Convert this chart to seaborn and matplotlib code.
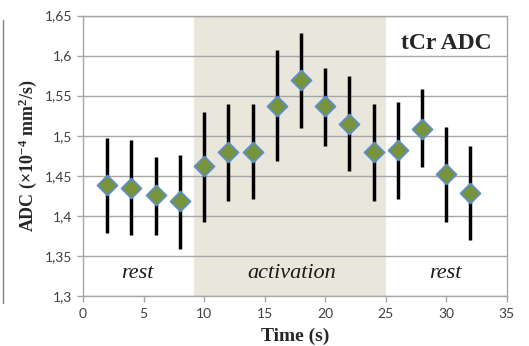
import matplotlib
matplotlib.use("Agg")
import matplotlib.pyplot as plt
from matplotlib.lines import Line2D
import seaborn as sns
import pandas as pd

# ---------------------------------------------------------------------------
# data
# ---------------------------------------------------------------------------
time_s = [2, 4, 6, 8, 10, 12, 14, 16, 18, 20, 22, 24, 26, 28, 30, 32]
adc_mean = [1.438, 1.435, 1.426, 1.418, 1.462, 1.480, 1.480, 1.537,
            1.569, 1.537, 1.515, 1.479, 1.482, 1.508, 1.452, 1.429]
adc_low = [1.379, 1.376, 1.376, 1.358, 1.392, 1.419, 1.421, 1.468,
           1.510, 1.487, 1.456, 1.419, 1.421, 1.461, 1.392, 1.370]
adc_high = [1.497, 1.494, 1.474, 1.476, 1.530, 1.540, 1.540, 1.607,
            1.628, 1.585, 1.575, 1.539, 1.542, 1.558, 1.511, 1.487]

activation_span = (9.2, 25.0)
phase_labels = ["rest", "activation", "rest"]
phase_x = [4.5, 17.2, 29.9]

x_ticks = [0, 5, 10, 15, 20, 25, 30, 35]
y_ticks = [1.3, 1.35, 1.4, 1.45, 1.5, 1.55, 1.6, 1.65]
y_tick_labels = ["1,3", "1,35", "1,4", "1,45", "1,5", "1,55", "1,6", "1,65"]

df = pd.DataFrame({"time": time_s, "adc": adc_mean, "lo": adc_low, "hi": adc_high})

sns.set_theme(style="white")
plt.rcParams["font.family"] = ["Lato", "DejaVu Sans"]
plt.rcParams["mathtext.fontset"] = "custom"
plt.rcParams["mathtext.rm"] = "Liberation Serif:bold"
plt.rcParams["mathtext.bf"] = "Liberation Serif:bold"
plt.rcParams["mathtext.default"] = "rm"

fig = plt.figure(figsize=(5.29, 3.46), dpi=100)
ax = fig.add_axes([0.157, 0.145, 0.801, 0.810])

grey = "#a6a6a6"
ax.set_axisbelow(True)
ax.axvspan(*activation_span, color="#e9e6dc", zorder=0, lw=0)
ax.yaxis.grid(True, color=grey, lw=1.0)
ax.xaxis.grid(False)

ax.vlines(df["time"], df["lo"], df["hi"], color="black", lw=2.5, zorder=2)
sns.scatterplot(data=df, x="time", y="adc", marker="D", s=105,
                color="#77933c", edgecolor="#5b8fd0", linewidth=1.2,
                zorder=3, ax=ax, legend=False)

ax.set_xlim(0, 35)
ax.set_ylim(1.3, 1.65)
ax.set_xticks(x_ticks)
ax.set_yticks(y_ticks)
ax.set_yticklabels(y_tick_labels)
ax.tick_params(axis="both", labelsize=10, colors=grey,
               direction="out", length=4, width=1)
ax.tick_params(axis="both", labelcolor="#404040")
ax.tick_params(axis="x", bottom=True, pad=5)
ax.tick_params(axis="y", left=True, pad=4)

for side in ["left", "bottom", "top", "right"]:
    ax.spines[side].set_visible(True)
    ax.spines[side].set_color(grey)
    ax.spines[side].set_linewidth(1.0)

serif = ["Liberation Serif", "DejaVu Serif"]
ax.set_xlabel("Time (s)", fontsize=14, fontweight="bold", family=serif, labelpad=5)
ax.set_ylabel("ADC (\u00d710$^{-4}$ mm$^{2}$/s)", fontsize=13, fontweight="bold",
              family=serif, labelpad=4)

for lab, xp in zip(phase_labels, phase_x):
    ax.text(xp, 1.3275, lab, ha="center", va="center", fontsize=16,
            style="italic", family=serif, color="#1a1a1a")

ax.text(0.965, 0.90, "tCr ADC", transform=ax.transAxes, ha="right",
        va="center", fontsize=17, fontweight="bold", family=serif)

# frame edge of the neighbouring panel at the far left
fig.add_artist(Line2D([3 / 529, 3 / 529], [1 - 20 / 346, 1 - 303 / 346],
                      color="#808080", lw=1))

fig.savefig("out.png", dpi=100)
